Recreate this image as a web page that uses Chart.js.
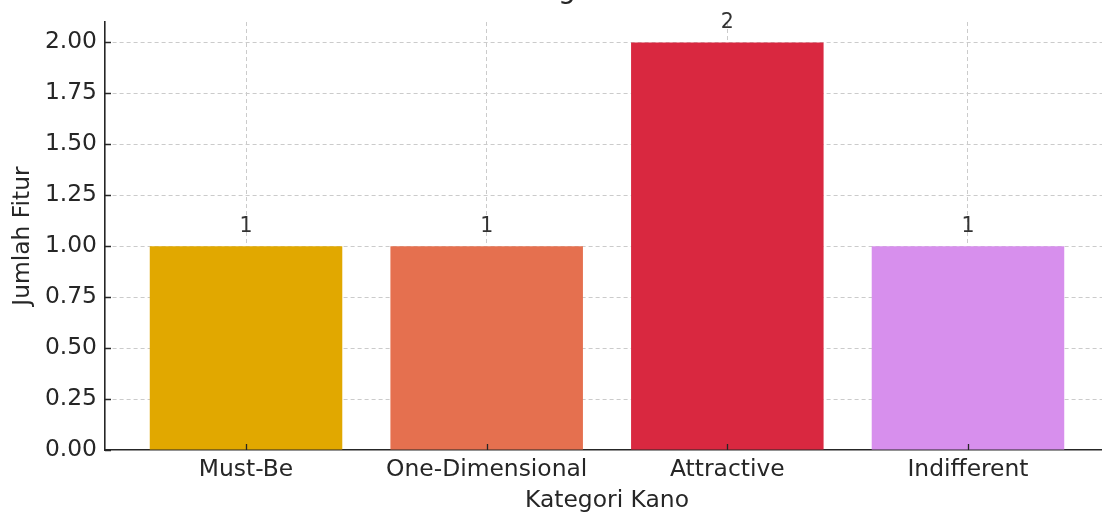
<!DOCTYPE html>
<html>
<head>
<meta charset="utf-8">
<script src="https://cdn.jsdelivr.net/npm/chart.js@4"></script>
<style>
  html, body { margin: 0; padding: 0; overflow: hidden; background: #fff; width: 1102px; height: 513px; }
  #wrap { position: absolute; left: 0; top: 0; width: 1110px; height: 513px; }
</style>
</head>
<body>
<div id="wrap"><canvas id="c"></canvas></div>
<script>
// Kano categories and how many features fall into each
const categories = ['Must-Be', 'One-Dimensional', 'Attractive', 'Indifferent'];
const counts = [1, 1, 2, 1];
const barColors = ['#E1A800', '#E5704F', '#D92840', '#D78FED'];
const yTicks = [0, 0.25, 0.5, 0.75, 1.0, 1.25, 1.5, 1.75, 2.0];
const chartTitle = 'Kategori Kano';
const xTitle = 'Kategori Kano';
const yTitle = 'Jumlah Fitur';

const FONT = '"DejaVu Sans"';
const INK = '#262626';
const LABEL_SIZE = 23.4;

// Title line, short inward tick marks and value labels above bars
const decorations = {
  id: 'decorations',
  afterDraw(chart) {
    const { ctx, chartArea, scales } = chart;
    ctx.save();
    // title (sits above the top edge, only descenders reach the canvas)
    ctx.fillStyle = INK;
    ctx.font = `28px ${FONT}`;
    ctx.textAlign = 'center';
    ctx.textBaseline = 'alphabetic';
    ctx.fillText(chartTitle, (chartArea.left + chartArea.right) / 2 - 14, -2);

    // inward tick marks
    ctx.strokeStyle = INK;
    ctx.lineWidth = 1.3;
    ctx.beginPath();
    yTicks.forEach(v => {
      const py = Math.round(scales.y.getPixelForValue(v)) + 0.5;
      ctx.moveTo(chartArea.left, py);
      ctx.lineTo(chartArea.left + 6, py);
    });
    categories.forEach((_, i) => {
      const px = Math.round(scales.x.getPixelForValue(i)) + 0.5;
      ctx.moveTo(px, chartArea.bottom);
      ctx.lineTo(px, chartArea.bottom - 6);
    });
    ctx.stroke();

    // value labels
    ctx.fillStyle = '#333333';
    ctx.font = `20.5px ${FONT}`;
    const meta = chart.getDatasetMeta(0);
    meta.data.forEach((bar, i) => {
      ctx.fillText(String(counts[i]), bar.x, bar.y - 14);
    });
    ctx.restore();
  }
};

new Chart(document.getElementById('c'), {
  type: 'bar',
  data: {
    datasets: [{
      data: counts.map((v, i) => ({ x: i, y: v })),
      backgroundColor: barColors,
      borderWidth: 0,
      barPercentage: 0.8,
      categoryPercentage: 1.0
    }]
  },
  options: {
    responsive: true,
    maintainAspectRatio: false,
    animation: false,
    devicePixelRatio: 1,
    layout: { padding: { top: 20, right: 1, left: 0, bottom: 0 } },
    plugins: { legend: { display: false }, tooltip: { enabled: false }, title: { display: false } },
    scales: {
      x: {
        type: 'linear',
        z: 1,
        offset: false,
        min: -0.586,
        max: 3.586,
        afterBuildTicks: s => { s.ticks = categories.map((_, i) => ({ value: i })); },
        afterFit: s => { s.height = 63; },
        ticks: {
          autoSkip: false,
          maxRotation: 0,
          padding: 6,
          color: INK,
          font: { family: FONT, size: LABEL_SIZE },
          callback: v => categories[v] ?? ''
        },
        grid: { offset: false, color: '#cbcbcb', lineWidth: 1, drawTicks: false },
        border: { display: true, color: INK, width: 1.6, dash: [4, 3] },
        title: {
          display: true,
          text: xTitle,
          color: INK,
          font: { family: FONT, size: LABEL_SIZE },
          padding: { top: 0, bottom: -2 }
        }
      },
      y: {
        z: 1,
        min: 0,
        max: 2.1,
        afterBuildTicks: s => { s.ticks = yTicks.map(v => ({ value: v })); },
        afterFit: s => { s.width = 105; },
        ticks: {
          padding: 8,
          color: INK,
          font: { family: FONT, size: LABEL_SIZE },
          callback: v => Number(v).toFixed(2)
        },
        grid: {
          color: c => (c.tick && c.tick.value === 0 ? 'rgba(0,0,0,0)' : '#cbcbcb'),
          lineWidth: 1,
          drawTicks: false
        },
        border: { display: true, color: INK, width: 1.6, dash: [4, 3] },
        title: {
          display: true,
          text: yTitle,
          color: INK,
          font: { family: FONT, size: LABEL_SIZE },
          padding: { top: 9, bottom: 0 }
        }
      }
    }
  },
  plugins: [decorations]
});
</script>
</body>
</html>
